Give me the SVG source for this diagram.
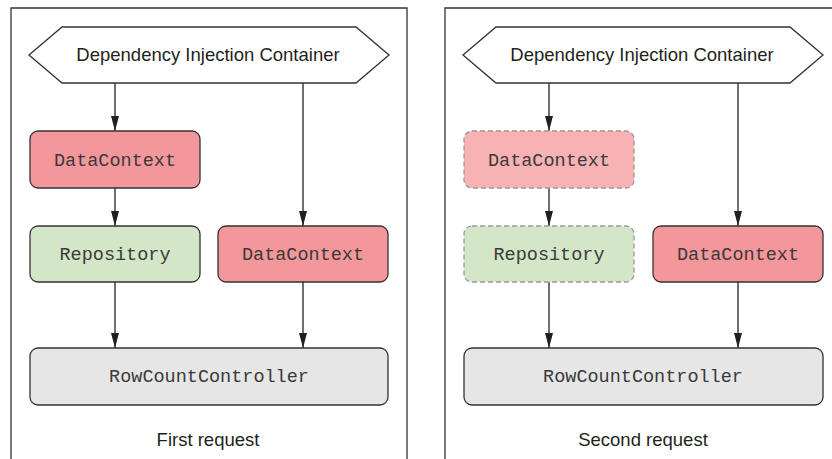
<svg xmlns="http://www.w3.org/2000/svg" width="832" height="459" viewBox="0 0 832 459">
<style>
.panel{fill:#fff;stroke:#333;stroke-width:1.3}
.hex{fill:#fff;stroke:#333;stroke-width:1.3}
.box{stroke:#333;stroke-width:1.3}
.dash{stroke:#999;stroke-width:1.3;stroke-dasharray:5 3}
.red{fill:#f4979b}
.faded{fill:#f8b2b4}
.green{fill:#d3e6c8}
.gray{fill:#e6e6e6}
.sans{font-family:"Liberation Sans",Arial,sans-serif;font-size:18.5px;fill:#231f20;text-anchor:middle}
.mono{font-family:"Liberation Mono","Courier New",monospace;font-size:18.5px;fill:#3a3a3a;text-anchor:middle}
.conn line{stroke:#231f20;stroke-width:1.3;fill:none}
</style>
<defs>
<marker id="arr" markerWidth="15" markerHeight="8" refX="15" refY="4" orient="auto" markerUnits="userSpaceOnUse" viewBox="0 0 15 8">
<path d="M0,0 L15,4 L0,8 Z" fill="#231f20"/>
</marker>
</defs>
<rect width="832" height="459" fill="#fff"/>
<g id="panel1">
<path class="panel" d="M11,460 V8 H407 V460"/>
<text class="sans" x="208" y="446">First request</text>
</g>
<g id="panel2">
<path class="panel" d="M445,460 V8 H841 V460"/>
<text class="sans" x="643" y="446">Second request</text>
</g>
<g class="conn">
<line x1="115" y1="83" x2="115" y2="131" marker-end="url(#arr)"/>
<line x1="115" y1="188" x2="115" y2="226" marker-end="url(#arr)"/>
<line x1="303" y1="83" x2="303" y2="226" marker-end="url(#arr)"/>
<line x1="115" y1="282" x2="115" y2="348" marker-end="url(#arr)"/>
<line x1="303" y1="282" x2="303" y2="348" marker-end="url(#arr)"/>
<line x1="549" y1="83" x2="549" y2="131" marker-end="url(#arr)"/>
<line x1="549" y1="188" x2="549" y2="226" marker-end="url(#arr)"/>
<line x1="738" y1="83" x2="738" y2="226" marker-end="url(#arr)"/>
<line x1="549" y1="282" x2="549" y2="348" marker-end="url(#arr)"/>
<line x1="738" y1="282" x2="738" y2="348" marker-end="url(#arr)"/>
</g>
<g id="di1">
<polygon class="hex" points="29,55 62,27 356,27 389,55 356,83 62,83"/>
<text class="sans" x="208" y="61">Dependency Injection Container</text>
</g>
<g id="dc1a">
<rect class="box red" x="30" y="131" width="170" height="57" rx="8"/>
<text class="mono" x="115" y="165.5">DataContext</text>
</g>
<g id="repo1">
<rect class="box green" x="30" y="226" width="170" height="56" rx="8"/>
<text class="mono" x="115" y="260">Repository</text>
</g>
<g id="dc1b">
<rect class="box red" x="218" y="226" width="170" height="56" rx="8"/>
<text class="mono" x="303" y="260">DataContext</text>
</g>
<g id="ctrl1">
<rect class="box gray" x="30" y="348" width="358" height="57" rx="8"/>
<text class="mono" x="209" y="382">RowCountController</text>
</g>
<g id="di2">
<polygon class="hex" points="463,55 496,27 790,27 823,55 790,83 496,83"/>
<text class="sans" x="642" y="61">Dependency Injection Container</text>
</g>
<g id="dc2a">
<rect class="dash faded" x="464" y="131" width="170" height="57" rx="8"/>
<text class="mono" x="549" y="165.5">DataContext</text>
</g>
<g id="repo2">
<rect class="dash green" x="464" y="226" width="170" height="56" rx="8"/>
<text class="mono" x="549" y="260">Repository</text>
</g>
<g id="dc2b">
<rect class="box red" x="653" y="226" width="170" height="56" rx="8"/>
<text class="mono" x="738" y="260">DataContext</text>
</g>
<g id="ctrl2">
<rect class="box gray" x="464" y="348" width="359" height="57" rx="8"/>
<text class="mono" x="643" y="382">RowCountController</text>
</g>
</svg>
